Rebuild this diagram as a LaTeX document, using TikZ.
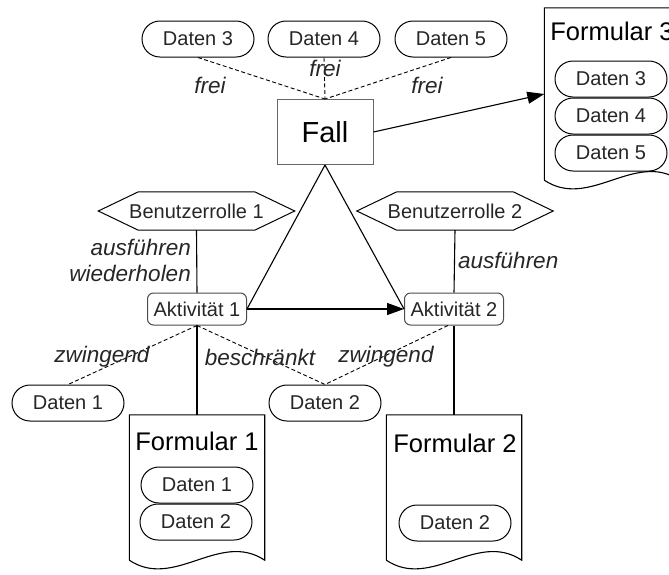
\documentclass[tikz,border=0pt]{standalone}
\usepackage{fontspec}
\setmainfont{Liberation Sans}
\usetikzlibrary{arrows.meta}
\begin{document}
\begin{tikzpicture}[x=1pt,y=-1pt,
  every node/.style={text=black!85, inner sep=0pt},
  conn/.style={line width=1.1pt},
  dashconn/.style={line width=0.9pt, dash pattern=on 4pt off 2.5pt},
  arr/.style={conn, -{Triangle[length=17pt,width=12pt]}},
  pill/.style={draw, line width=1pt, rounded corners=18pt, minimum width=112pt,
    minimum height=36pt, font=\fontsize{20}{24}\selectfont},
  activity/.style={draw=black!70, line width=1pt, rounded corners=6pt, minimum width=99pt,
    minimum height=32pt, font=\fontsize{20}{24}\selectfont},
  role/.style={draw=none, minimum width=196pt, minimum height=38pt,
    font=\fontsize{20}{24}\selectfont},
  hexline/.style={line width=1pt},
  docarea/.style={draw=none, minimum width=135pt},
  doctitle/.style={font=\fontsize{25.5}{30}\selectfont, text=black},
  lbl/.style={font=\fontsize{22.5}{27}\selectfont\itshape},
]
\useasboundingbox (0,0) rectangle (669,574);

% case box and its free data
\node[draw=black!60, line width=1pt, minimum width=96pt, minimum height=65pt,
      font=\fontsize{29}{34}\selectfont, text=black] (fall) at (325,132) {Fall};
\node[pill] (d3) at (198,39) {Daten 3};
\node[pill] (d4) at (324,39) {Daten 4};
\node[pill] (d5) at (451,39) {Daten 5};
\draw[dashconn] (d3.south) -- (fall.north);
\draw[dashconn] (d4.south) -- (fall.north);
\draw[dashconn] (d5.south) -- (fall.north);
\node[lbl] (lf3) at (210,85) {frei};
\node[lbl] (lf4) at (325,68) {frei};
\node[lbl] (lf5) at (427,85) {frei};

% form 3 (document shape, running past the right edge)
\node[docarea, minimum height=172pt] (f3) at (612,94) {};
\draw[conn] (f3.south west) -- (f3.north west) -- (f3.north east) -- (f3.south east)
  .. controls +(-45,-30) and +(45,30) .. (f3.south west);
\node[doctitle] (f3t) at (612,31) {Formular 3};
\node[pill] (f3d3) at (611,79) {Daten 3};
\node[pill] (f3d4) at (611,116) {Daten 4};
\node[pill] (f3d5) at (611,153) {Daten 5};
\draw[arr] (fall.east) -- (f3.west);

% roles (hexagons drawn around the text nodes) and activities
\node[role] (b1) at (196.5,211) {Benutzerrolle 1};
\node[role] (b2) at (455,211) {Benutzerrolle 2};
\foreach \r in {b1,b2}{
  \draw[hexline] (\r.west) -- ([xshift=40pt]\r.north west) -- ([xshift=-40pt]\r.north east)
    -- (\r.east) -- ([xshift=-40pt]\r.south east) -- ([xshift=40pt]\r.south west) -- cycle;
}
\node[activity] (a1) at (197,309) {Aktivität 1};
\node[activity] (a2) at (454,309) {Aktivität 2};
\draw[conn] (b1.south) -- (a1.north);
\draw[conn] (b2.south) -- (a2.north);
\node[lbl, anchor=east] (lr1a) at (191,247) {ausführen};
\node[lbl, anchor=east] (lr1b) at (191,273) {wiederholen};
\node[lbl, anchor=west] (lr2) at (458,260) {ausführen};
\draw[conn] (fall.south) -- (a1.east);
\draw[conn] (fall.south) -- (a2.west);
\draw[arr] (a1.east) -- (a2.west);

% data attached to the activities
\node[pill] (d1) at (68,403) {Daten 1};
\node[pill] (d2) at (325,403) {Daten 2};
\draw[dashconn] (a1.south) -- (d1.north);
\draw[dashconn] (a1.south) -- (d2.north);
\draw[dashconn] ([xshift=-6pt]a2.south) -- (d2.north);
\node[lbl] (lz1) at (102,357) {zwingend};
\node[lbl] (lb) at (260,357) {beschränkt};
\node[lbl] (lz2) at (386,357) {zwingend};

% form 1
\node[docarea, minimum height=145pt] (f1) at (197,487.5) {};
\draw[conn] (f1.south west) -- (f1.north west) -- (f1.north east) -- (f1.south east)
  .. controls +(-45,-30) and +(45,30) .. (f1.south west);
\node[doctitle] (f1t) at (197,441) {Formular 1};
\node[pill] (f1d1) at (197,485) {Daten 1};
\node[pill] (f1d2) at (196,522) {Daten 2};
\draw[conn] (a1.south) -- (f1.north);

% form 2
\node[docarea, minimum height=145pt] (f2) at (454,487.5) {};
\draw[conn] (f2.south west) -- (f2.north west) -- (f2.north east) -- (f2.south east)
  .. controls +(-45,-30) and +(45,30) .. (f2.south west);
\node[doctitle] (f2t) at (455,443) {Formular 2};
\node[pill] (f2d2) at (455,523) {Daten 2};
\draw[conn] (a2.south) -- (f2.north);
\end{tikzpicture}
\end{document}
